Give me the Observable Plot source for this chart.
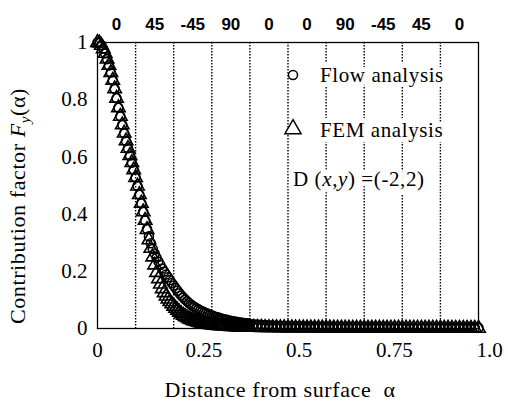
<!DOCTYPE html>
<html><head><meta charset="utf-8">
<script src="https://cdn.jsdelivr.net/npm/d3@7"></script>
<script src="https://cdn.jsdelivr.net/npm/@observablehq/plot@0.6"></script>
<style>body{margin:0;background:#fff} #chart{width:508px;height:414px}</style>
</head><body><div id="chart"></div>
<script>
// Sampling positions (distance from surface α)
const alpha = [
0,0.005,0.01,0.015,0.02,0.025,0.03,0.035,0.04,0.045,0.05,0.055,0.06,0.065,0.07,0.075,0.08,0.085,0.09,0.095,
0.1,0.105,0.11,0.115,0.12,0.125,0.13,0.135,0.14,0.145,0.15,0.155,0.16,0.165,0.17,0.175,0.18,0.185,0.19,0.195,
0.2,0.205,0.21,0.215,0.22,0.225,0.23,0.235,0.24,0.245,0.25,0.255,0.26,0.265,0.27,0.275,0.28,0.285,0.29,0.295,
0.3,0.305,0.31,0.315,0.32,0.325,0.33,0.335,0.34,0.345,0.35,0.355,0.36,0.365,0.37,0.375,0.38,0.385,0.39,0.395,0.4,
0.41,0.42,0.43,0.44,0.45,0.46,0.47,0.48,0.49,0.5,0.51,0.52,0.53,0.54,0.55,0.56,0.57,0.58,0.59,0.6,
0.61,0.62,0.63,0.64,0.65,0.66,0.67,0.68,0.69,0.7,0.71,0.72,0.73,0.74,0.75,0.76,0.77,0.78,0.79,0.8,
0.81,0.82,0.83,0.84,0.85,0.86,0.87,0.88,0.89,0.9,0.91,0.92,0.93,0.94,0.95,0.96,0.97,0.98,0.99,1.0
];
// Flow analysis (circles)
const flow = [
1.000,0.998,0.990,0.978,0.962,0.942,0.920,0.895,0.868,0.838,0.805,0.772,0.742,0.712,0.683,0.656,0.630,0.605,0.580,0.555,
0.528,0.498,0.468,0.438,0.408,0.378,0.348,
0.322,0.298,0.278,0.262,0.247,0.234,0.222,0.210,0.199,0.189,
0.179,0.169,0.159,0.150,0.141,0.132,0.123,0.115,0.108,0.101,
0.095,0.089,0.084,0.079,0.075,0.071,0.067,0.063,0.060,0.057,
0.054,0.051,0.048,0.046,0.043,0.041,0.039,0.037,0.035,0.033,
0.031,0.030,0.028,0.027,0.025,0.024,0.023,0.022,0.021,0.020,
0.019,0.018,0.017,0.016,
0.015,0.014,0.013,0.012,0.011,0.010,0.0095,0.009,0.0085,0.008,
0.0077,0.0074,0.0071,0.0068,0.0065,0.0062,0.0060,0.0058,0.0056,0.0054,
0.0052,0.0050,0.0049,0.0048,0.0047,0.0046,0.0045,0.0044,0.0043,0.0042,
0.0041,0.0040,0.0039,0.0039,0.0038,0.0038,0.0037,0.0037,0.0036,0.0036,
0.0035,0.0035,0.0034,0.0034,0.0033,0.0033,0.0033,0.0032,0.0032,0.0032,
0.0031,0.0031,0.0031,0.0030,0.0030,0.0030,0.0030,0.0029,0.0029,0.0029
];
// FEM analysis (triangles)
const fem = [
1.000,0.998,0.990,0.978,0.962,0.942,0.920,0.895,0.868,0.838,0.805,0.772,0.742,0.712,0.683,0.656,0.630,0.605,0.580,0.555,
0.528,0.498,0.468,0.438,0.408,0.378,0.346,
0.310,0.280,0.250,0.222,0.196,0.174,0.155,0.139,0.125,0.113,
0.103,0.094,0.086,0.078,0.071,0.064,0.057,0.051,0.046,0.042,
0.038,0.034,0.031,0.028,0.026,0.024,0.022,0.020,0.018,0.017,
0.016,0.015,0.014,0.013,0.012,0.011,0.0105,0.010,0.0095,0.009,
0.0085,0.008,0.0076,0.0072,0.0068,0.0064,0.0060,0.0057,0.0054,0.0051,
0.0048,0.0046,0.0044,0.0042,
0.0040,0.0038,0.0036,0.0034,0.0032,0.0030,0.0029,0.0028,0.0027,0.0026,
0.0025,0.0024,0.0023,0.0022,0.0021,0.0020,0.0020,0.0019,0.0019,0.0018,
0.0018,0.0017,0.0017,0.0016,0.0016,0.0015,0.0015,0.0015,0.0014,0.0014,
0.0014,0.0013,0.0013,0.0013,0.0012,0.0012,0.0012,0.0012,0.0011,0.0011,
0.0011,0.0011,0.0010,0.0010,0.0010,0.0010,0.0010,0.0009,0.0009,0.0009,
0.0009,0.0009,0.0008,0.0008,0.0008,0.0008,0.0008,0.0008,0.0007,0.0007
];
const plyBoundaries = [0.1,0.2,0.3,0.4,0.5,0.6,0.7,0.8,0.9];
const plyCenters = [0.05,0.15,0.25,0.35,0.45,0.55,0.65,0.75,0.85,0.95];
const plyAngles = ["0","45","-45","90","0","0","90","-45","45","0"];
const xTicks = [0,0.25,0.5,0.75,1];
const xTickLabels = ["0","0.25","0.5","0.75","1.0"];
const yTicks = [0,0.2,0.4,0.6,0.8,1];
const yTickLabels = ["0","0.2","0.4","0.6","0.8","1"];

const flowData = alpha.map((a, i) => ({a, f: flow[i]}));
const femData = alpha.map((a, i) => ({a, f: fem[i]}));
const serif = "'Liberation Serif', 'Times New Roman', serif";
const xFmt = d => xTickLabels[xTicks.indexOf(d)];

const chart = Plot.plot({
  width: 508, height: 414,
  marginLeft: 97, marginRight: 30, marginTop: 42, marginBottom: 86,
  x: {domain: [0, 1]},
  y: {domain: [0, 1]},
  style: {fontFamily: serif, fontSize: "21px", color: "black", background: "white"},
  marks: [
    Plot.ruleX(plyBoundaries, {stroke: "black", strokeWidth: 1.4, strokeDasharray: "1.5,1.5"}),
    Plot.frame({stroke: "black", strokeWidth: 1.3}),
    Plot.axisX(xTicks.slice(0, 1), {anchor: "bottom", tickSize: 0, tickPadding: 14, label: null,
      tickFormat: xFmt, fontSize: 21}),
    Plot.axisX(xTicks.slice(1), {anchor: "bottom", tickSize: 0, tickPadding: 14, label: null,
      tickFormat: xFmt, fontSize: 21, dx: 11}),
    Plot.axisX(plyCenters, {anchor: "top", tickSize: 0, tickPadding: 13, label: null,
      tickFormat: d => plyAngles[plyCenters.indexOf(d)],
      fontFamily: "'Liberation Sans', Arial, sans-serif", fontWeight: "bold", fontSize: 17}),
    Plot.axisY(yTicks, {anchor: "left", tickSize: 0, tickPadding: 10, label: null,
      tickFormat: d => yTickLabels[yTicks.indexOf(d)], fontSize: 21}),
    Plot.dot(flowData, {x: "a", y: "f", symbol: "circle", r: 4.5, fill: "none", stroke: "black", strokeWidth: 1.6}),
    Plot.dot(femData, {x: "a", y: "f", symbol: "triangle", r: 5, fill: "none", stroke: "black", strokeWidth: 1.6})
  ]
});

const svg = d3.select(chart);
// y-axis title
const yt = svg.append("text")
  .attr("transform", "translate(25,206) rotate(-90)")
  .attr("text-anchor", "middle")
  .attr("font-family", serif).attr("font-size", 22).attr("letter-spacing", 0.6)
  .attr("fill", "black");
yt.append("tspan").text("Contribution factor ");
yt.append("tspan").attr("font-style", "italic").text("F");
yt.append("tspan").attr("font-style", "italic").attr("font-size", 15).attr("dy", 5).text("y");
yt.append("tspan").attr("dy", -5).text("(α)");
// x-axis title
svg.append("text")
  .attr("x", 280).attr("y", 397)
  .attr("text-anchor", "middle")
  .attr("font-family", serif).attr("font-size", 22).attr("letter-spacing", 0.6)
  .attr("fill", "black")
  .text("Distance from surface  α");

// legend
const lg = svg.append("g").attr("font-family", serif).attr("font-size", 21)
  .attr("text-anchor", "start").attr("fill", "black");
function legendText(x, y, parts, withHalo) {
  const t = lg.append("text").attr("x", x).attr("y", y).attr("letter-spacing", 0.6);
  if (withHalo) t.attr("fill", "white").attr("stroke", "white").attr("stroke-width", 10).attr("stroke-linejoin", "round");
  parts.forEach(([s, it]) => { const sp = t.append("tspan").text(s); if (it) sp.attr("font-style", "italic"); });
}
const entries = [
  [320, 82, [["Flow analysis", false]]],
  [320, 137, [["FEM analysis", false]]],
  [293, 186, [["D (", false], ["x", true], [",", false], ["y", true], [") =(-2,2)", false]]]
];
entries.forEach(e => legendText(e[0], e[1], e[2], true));
entries.forEach(e => legendText(e[0], e[1], e[2], false));
lg.append("path").attr("transform", "translate(293,75)")
  .attr("d", d3.symbol(d3.symbolCircle, 4.5 * 4.5 * Math.PI)())
  .attr("fill", "white").attr("stroke", "black").attr("stroke-width", 1.5);
lg.append("path").attr("transform", "translate(293,129)")
  .attr("d", d3.symbol(d3.symbolTriangle, 6 * 6 * Math.PI)())
  .attr("fill", "white").attr("stroke", "black").attr("stroke-width", 1.5);

document.getElementById("chart").appendChild(chart);
</script>
</body></html>
